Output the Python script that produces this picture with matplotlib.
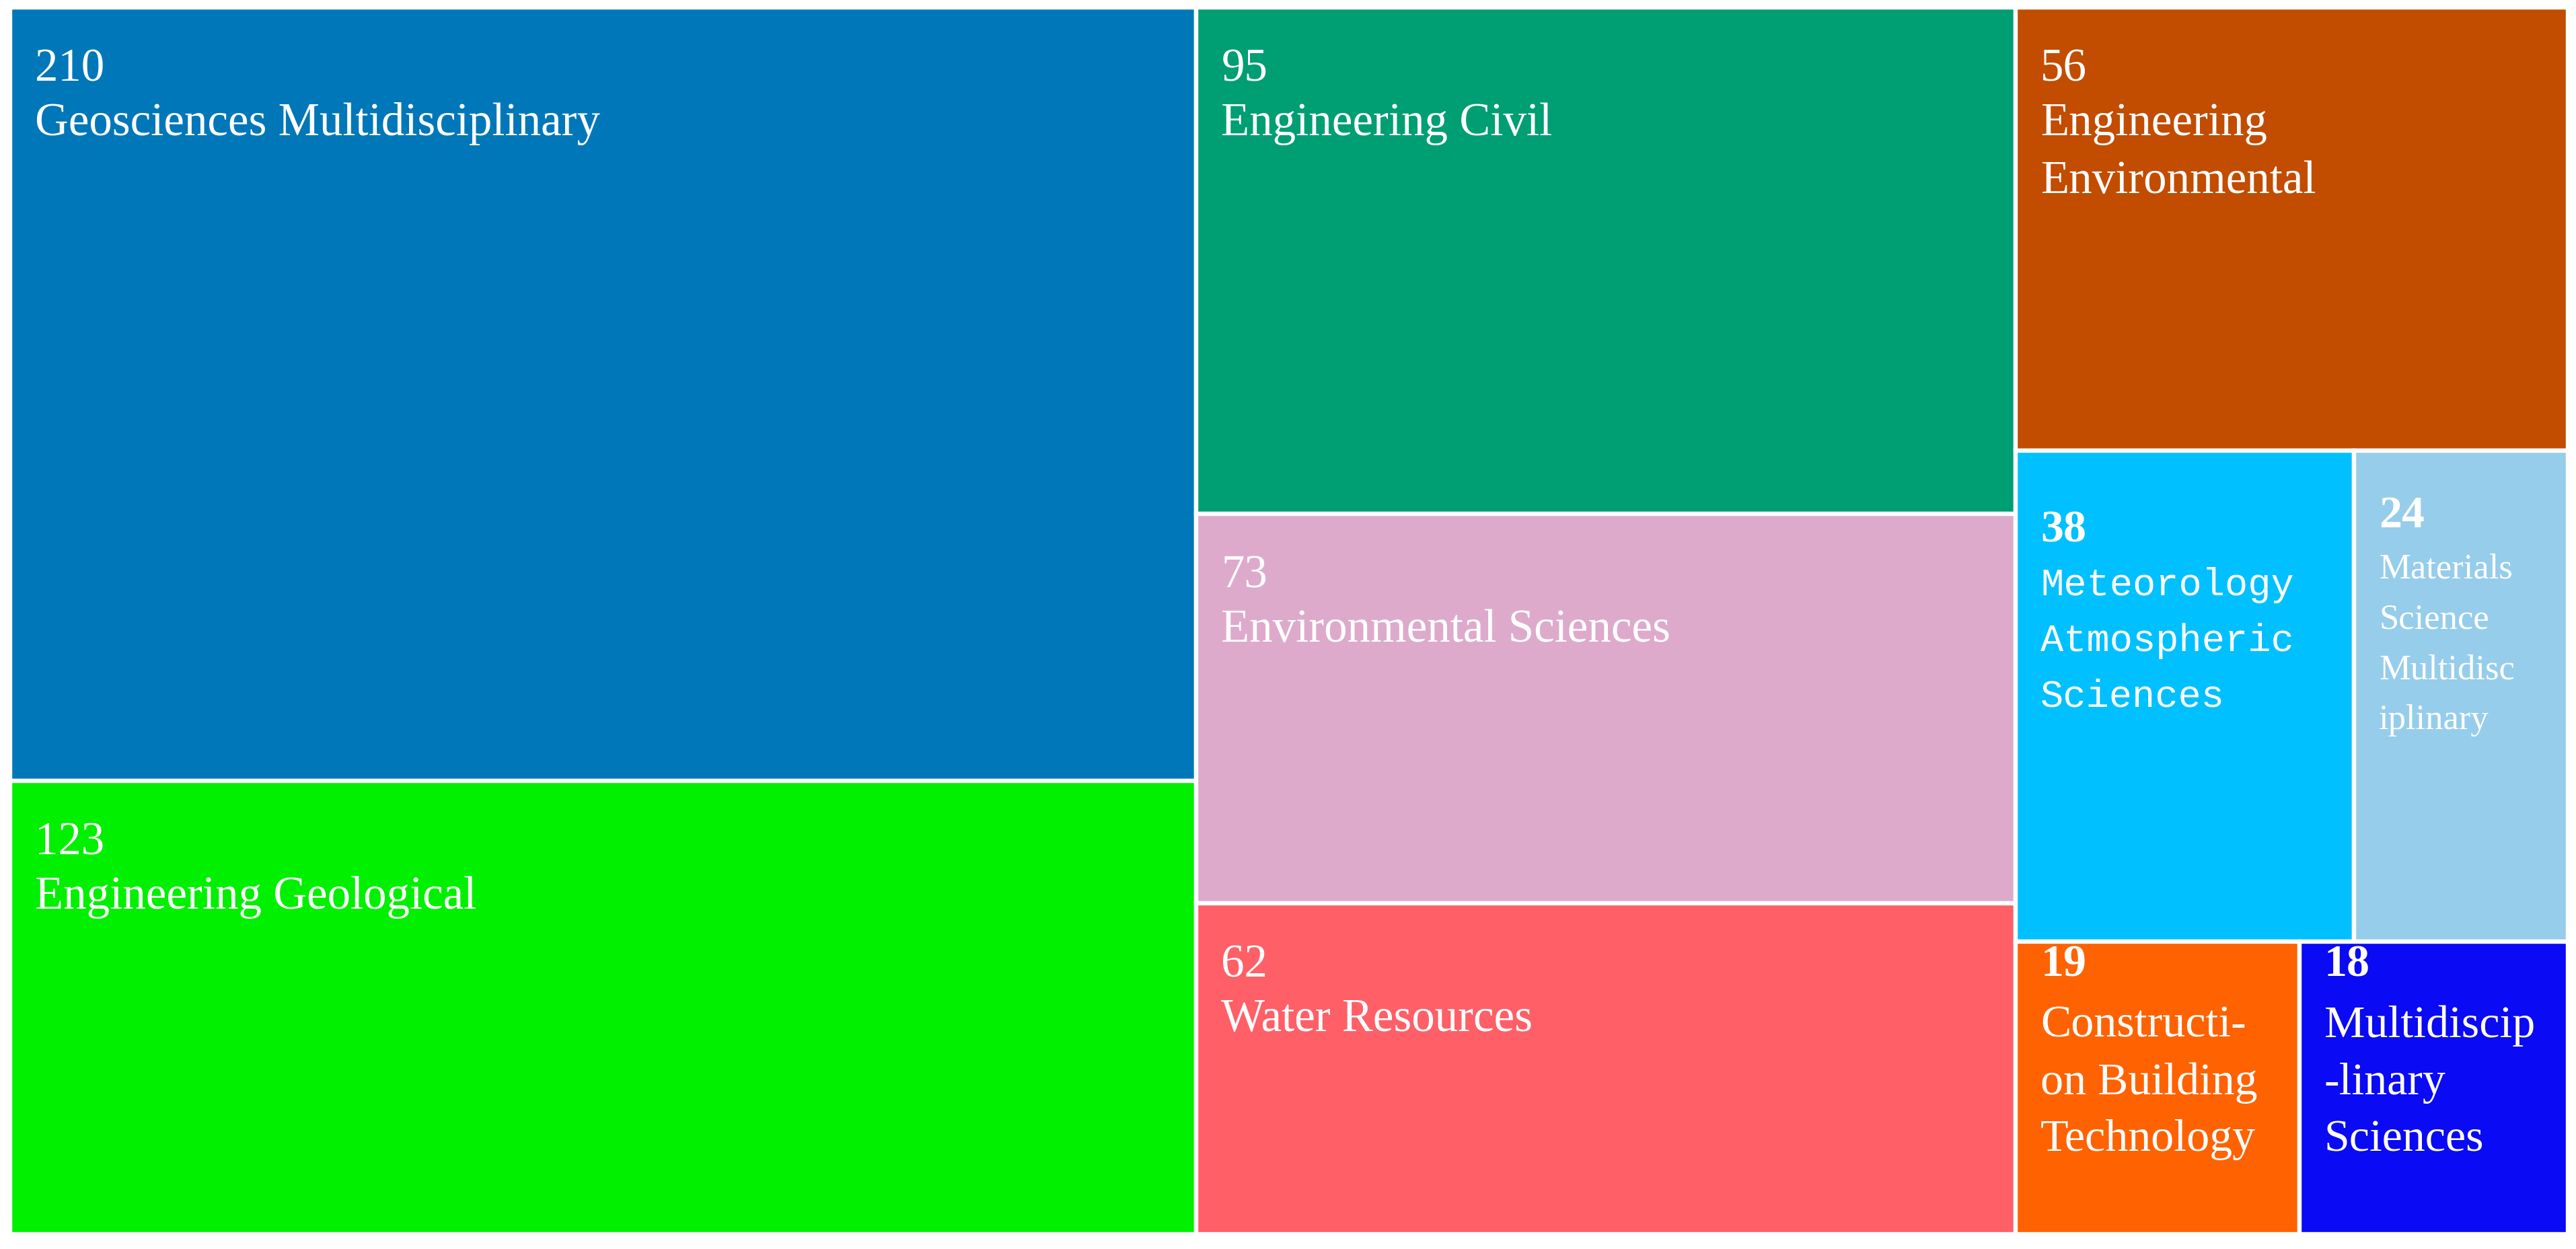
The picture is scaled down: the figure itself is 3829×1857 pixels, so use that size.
import matplotlib
matplotlib.use("Agg")
import matplotlib.pyplot as plt
from matplotlib.patches import Rectangle

DPI = 200
W_PX, H_PX = 3829, 1858

# data
counts = [210, 123, 95, 73, 62, 56, 38, 24, 19, 18]
labels = [
    "Geosciences Multidisciplinary",
    "Engineering Geological",
    "Engineering Civil",
    "Environmental Sciences",
    "Water Resources",
    "Engineering\nEnvironmental",
    "Meteorology\nAtmospheric\nSciences",
    "Materials\nScience\nMultidisc\niplinary",
    "Constructi-\non Building\nTechnology",
    "Multidiscip\n-linary\nSciences",
]
colors = ["#0077B9", "#00F000", "#009E73", "#DDAACC", "#FF5F67",
          "#C24C00", "#00C0FF", "#96CDEB", "#FF6200", "#0A0AF5"]

# tile arrangement: columns -> rows -> indices
layout = [[[0], [1]], [[2], [3], [4]], [[5], [6, 7], [8, 9]]]

# text styles per tile (pixel offsets from tile's top-left)
num_bold = [False] * 6 + [True] * 4
num_pt = [24.8] * 6 + [24.5] * 4
font_pt = [24.8, 24.8, 24.8, 24.8, 24.8, 24.8, 20.5, 19, 24.5, 24.5]
label_family = ["Liberation Serif"] * 6 + ["Liberation Mono"] + ["Liberation Serif"] * 3
pad_top = [60, 60, 60, 60, 60, 60, 88, 66, 4, 4]
num_gap = [80, 80, 80, 80, 80, 80, 84, 86, 90, 90]
line_sp = [1.47, 1.47, 1.47, 1.47, 1.47, 1.47, 1.68, 1.72, 1.5, 1.5]
pad_left = 37


def px2pt(p):
    return p * 72 / DPI


fig = plt.figure(figsize=(W_PX / DPI, H_PX / DPI), dpi=DPI)
ax = fig.add_axes([15 / W_PX, 22 / H_PX, (3817 - 15) / W_PX, (1836 - 12) / H_PX])
ax.set_xlim(0, 1)
ax.set_ylim(1, 0)
ax.axis("off")

total = sum(counts)
x = 0.0
for col in layout:
    col_sum = sum(counts[i] for row in col for i in row)
    cw = col_sum / total
    y = 0.0
    for row in col:
        row_sum = sum(counts[i] for i in row)
        rh = row_sum / col_sum
        xx = x
        for i in row:
            tw = cw * counts[i] / row_sum
            ax.add_patch(Rectangle((xx, y), tw, rh, facecolor=colors[i],
                                   edgecolor="white", linewidth=2.3))
            ax.annotate(str(counts[i]), xy=(xx, y),
                        xytext=(px2pt(pad_left), -px2pt(pad_top[i])),
                        textcoords="offset points", ha="left", va="top",
                        color="white", fontsize=num_pt[i],
                        family="Liberation Serif",
                        fontweight="bold" if num_bold[i] else "normal")
            ax.annotate(labels[i], xy=(xx, y),
                        xytext=(px2pt(pad_left), -px2pt(pad_top[i] + num_gap[i])),
                        textcoords="offset points", ha="left", va="top",
                        color="white", fontsize=font_pt[i],
                        family=label_family[i], linespacing=line_sp[i])
            xx += tw
        y += rh
    x += cw

fig.savefig("out.png", dpi=DPI, facecolor="white")
